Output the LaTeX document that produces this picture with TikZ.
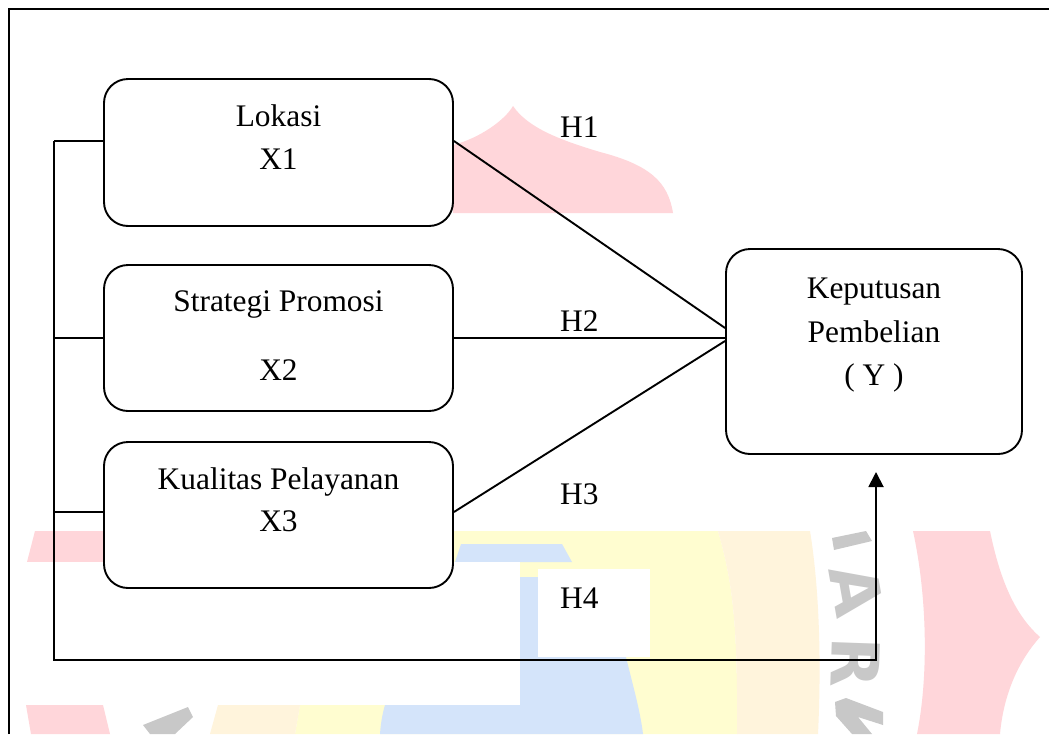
\documentclass[tikz,border=0pt]{standalone}
\usepackage{fontspec}
\setmainfont{Liberation Serif}
\newfontfamily\wmfont{DejaVu Sans}
\usetikzlibrary{arrows.meta}
\definecolor{wmpink}{RGB}{255,214,218}
\definecolor{wmyellow}{RGB}{255,253,208}
\definecolor{wmcream}{RGB}{255,244,220}
\definecolor{wmblue}{RGB}{212,228,250}
\definecolor{wmgray}{RGB}{200,200,200}
\begin{document}
\begin{tikzpicture}[x=1pt,y=-1pt,
  box/.style={draw, line width=1.9pt, rounded corners=24pt, fill=white, inner sep=0pt},
  lbl/.style={anchor=base, inner sep=0pt, font=\fontsize{31.4}{38}\selectfont},
  conn/.style={line width=1.9pt},
  wmletter/.style={text=wmgray, inner sep=0pt, font=\wmfont\bfseries\fontsize{66}{66}\selectfont}]
\useasboundingbox (0,0) rectangle (1049,734);
\fill[white] (0,0) rectangle (1049,734);
% ---- watermark ----
\fill[wmpink] (453,145) .. controls (480,138) and (505,120) .. (513,106)
  .. controls (528,128) and (560,140) .. (600,152)
  .. controls (650,165) and (668,182) .. (673,213) -- (453,213) -- cycle;
\fill[wmyellow] (453,531) -- (718,531) .. controls (732,580) and (738,620) .. (737,734)
  -- (295,734) -- (300,705) -- (453,705) -- cycle;
\fill[wmcream] (718,531) .. controls (732,580) and (738,620) .. (737,734)
  -- (818,734) .. controls (822,650) and (818,580) .. (810,531) -- cycle;
\fill[wmcream] (210,734) -- (218,705) -- (300,705) -- (295,734) -- cycle;
\fill[wmblue] (461,544) -- (562,544) -- (572,562) -- (455,562) -- cycle;
\fill[wmblue] (520,577) -- (620,577) -- (626,657) .. controls (634,690) and (640,710) .. (643,734)
  -- (380,734) .. controls (381,720) and (383,712) .. (385,705) -- (520,705) -- cycle;
\fill[wmpink] (35,531) -- (453,531) -- (453,562) -- (27,562) -- cycle;
\fill[white] (9,562) rectangle (520,705);
\fill[wmpink] (26,705) -- (103,705) -- (110,734) -- (31,734) -- cycle;
\fill[wmpink] (913,531) -- (990,531) .. controls (1000,580) and (1015,615) .. (1040,637)
  .. controls (1015,665) and (1003,700) .. (1000,734) -- (917,734)
  .. controls (928,680) and (928,600) .. (913,531) -- cycle;
\fill[wmgray] (832,538) -- (866,531) -- (872,541) -- (834,550) -- cycle;
\fill[wmgray] (143,725) -- (188,707) -- (193,717) -- (175,734) -- (150,734) -- cycle;
\fill[wmgray] (835,702) -- (846,698) -- (883,712) -- (883,725) -- (858,717) -- (872,734)
  -- (852,734) -- (836,716) -- cycle;
\node[wmletter, rotate=-80] (wa) at (857,590) {A};
\node[wmletter, rotate=-92] (wr) at (856,663) {R};
\fill[white] (538,569) rectangle (650,657);
% ---- frame ----
\draw[line width=1.9pt] (9,734) -- (9,9) -- (1049,9);
% ---- boxes ----
\node[box, minimum width=349pt, minimum height=147pt] (lok) at (278.5,152.5) {};
\node[box, minimum width=349pt, minimum height=146pt] (str) at (278.5,338) {};
\node[box, minimum width=349pt, minimum height=146pt] (kua) at (278.5,515) {};
\node[box, minimum width=296pt, minimum height=205pt] (kep) at (874,351.5) {};
% ---- texts ----
\node[lbl] (t1a) at (278.5,126) {Lokasi};
\node[lbl] (t1b) at (278.5,169) {X1};
\node[lbl] (t2a) at (278.5,311) {Strategi Promosi};
\node[lbl] (t2b) at (278.5,380) {X2};
\node[lbl] (t3a) at (278.5,489) {Kualitas Pelayanan};
\node[lbl] (t3b) at (278.5,531) {X3};
\node[lbl] (tya) at (874,298) {Keputusan};
\node[lbl] (tyb) at (874,342) {Pembelian};
\node[lbl] (tyc) at (874,385) {( Y )};
\node[lbl, anchor=base west] (h1) at (560,137) {H1};
\node[lbl, anchor=base west] (h2) at (560,331) {H2};
\node[lbl, anchor=base west] (h3) at (560,504) {H3};
\node[lbl, anchor=base west] (h4) at (560,608) {H4};
% ---- connectors ----
\coordinate (b1) at (54,141);
\coordinate (b2) at (54,338);
\coordinate (b3) at (54,512);
\coordinate (bb) at (54,660);
\coordinate (br) at (876,660);
\coordinate (tip) at (876,472);
\draw[conn] ([yshift=11.5pt]lok.east) -- ([yshift=23.5pt]kep.west);
\draw[conn] (str.east) -- ([yshift=13.5pt]kep.west);
\draw[conn] ([yshift=3pt]kua.east) -- ([yshift=10.5pt]kep.west);
\draw[conn] ([yshift=11.5pt]lok.west) -- (b1);
\draw[conn] (str.west) -- (b2);
\draw[conn] ([yshift=3pt]kua.west) -- (b3);
\draw[conn, -{Triangle[length=15pt,width=15pt]}] (b1) -- (bb) -- (br) -- (tip);
\end{tikzpicture}
\end{document}
